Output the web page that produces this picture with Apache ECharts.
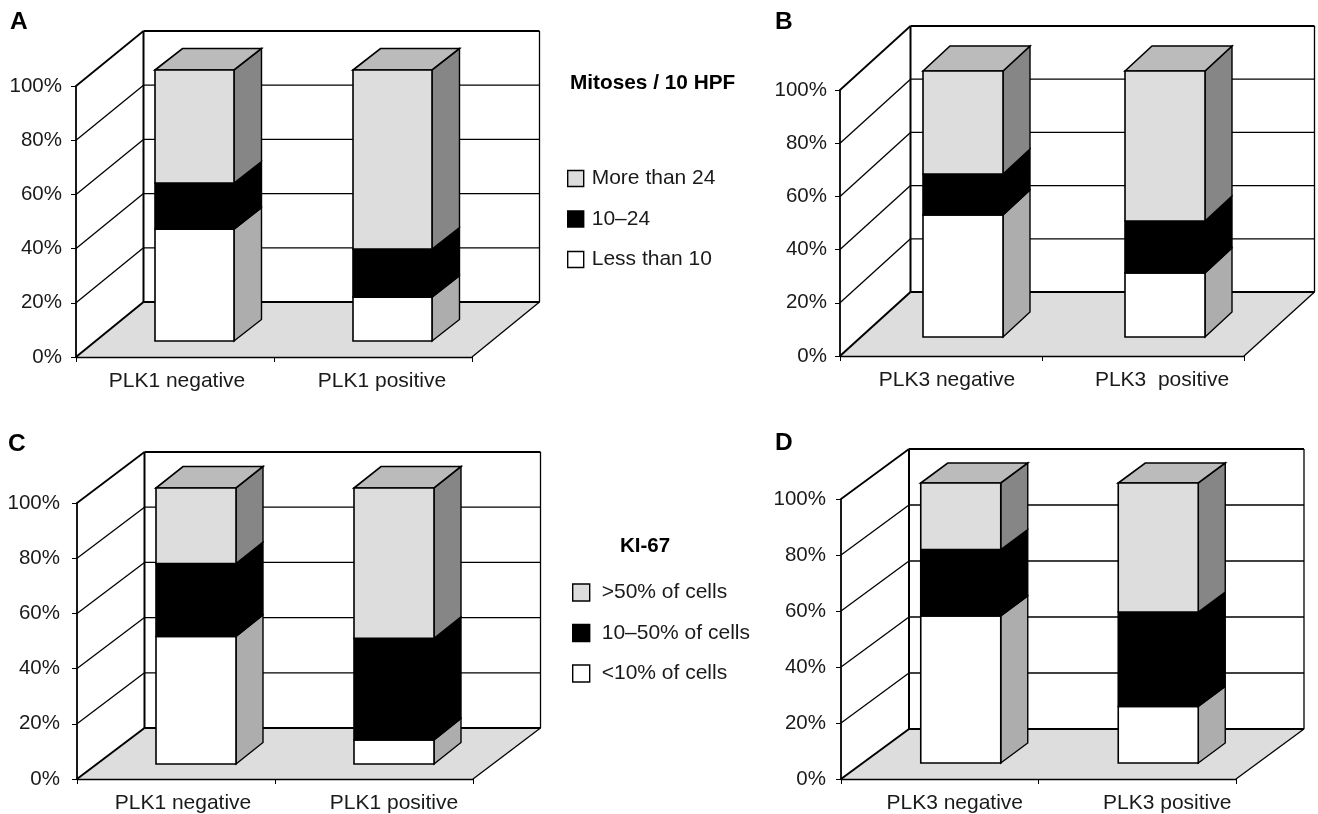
<!DOCTYPE html>
<html>
<head>
<meta charset="utf-8">
<style>html,body{margin:0;padding:0;background:#fff}#c{width:1318px;height:814px}</style>
<script src="https://cdn.jsdelivr.net/npm/echarts@6/dist/echarts.min.js"></script>
</head>
<body>
<div id="c"></div>
<script>
const yTicks = [20, 40, 60, 80, 100];
const categoriesA = ['PLK1 negative', 'PLK1 positive'];
const categoriesB = ['PLK3 negative', 'PLK3  positive'];
const categoriesC = ['PLK1 negative', 'PLK1 positive'];
const categoriesD = ['PLK3 negative', 'PLK3 positive'];
const mitosisNames = ['Less than 10', '10–24', 'More than 24'];
const ki67Names = ['<10% of cells', '10–50% of cells', '>50% of cells'];
const lowA = [41.3, 16.2], midA = [17.0, 17.7], highA = [41.7, 66.1];
const lowB = [45.9, 24.1], midB = [15.4, 19.5], highB = [38.7, 56.4];
const lowC = [46.2, 8.7], midC = [26.4, 36.8], highC = [27.4, 54.5];
const lowD = [52.5, 20.2], midD = [23.7, 33.7], highD = [23.8, 46.1];

const FONT = '"Liberation Sans", Arial, sans-serif';
const TEXT = '#1a1a1a';
const tierStyles = [
  { face: '#ffffff', side: '#adadad', stroke: '#000000' },
  { face: '#000000', side: '#000000', stroke: '#000000' },
  { face: '#dddddd', side: '#868686', stroke: '#000000' }
];

const panels = [
  { cats: categoriesA, names: mitosisNames, tiers: [lowA, midA, highA], rect: [76, 86, 396, 271], wall: [67.5, -55], barOff: [19.5, -16], barDepth: [27.5, -21.5], barW: 79, yMargin: 14, labelShift: [2, 9] },
  { cats: categoriesB, names: mitosisNames, tiers: [lowB, midB, highB], rect: [840, 90, 404, 266], wall: [70.5, -64], barOff: [22, -19], barDepth: [27, -25], barW: 80, yMargin: 13, labelShift: [6, 19] },
  { cats: categoriesC, names: ki67Names, tiers: [lowC, midC, highC], rect: [77, 503, 396, 277], wall: [67.5, -51], barOff: [20, -15], barDepth: [27, -21.5], barW: 80, yMargin: 17, labelShift: [7, 20] },
  { cats: categoriesD, names: ki67Names, tiers: [lowD, midD, highD], rect: [841, 499, 395, 282], wall: [68, -50], barOff: [21, -16], barDepth: [27, -20], barW: 80, yMargin: 15, labelShift: [15, 30] }
];

function line(x1, y1, x2, y2, w) {
  return { type: 'line', shape: { x1, y1, x2, y2 }, style: { stroke: '#000', lineWidth: w, fill: null } };
}
function poly(points, fill, stroke, w) {
  return { type: 'polygon', shape: { points }, style: { fill, stroke, lineWidth: w, lineJoin: 'miter' } };
}

function frameRender(panel) {
  return function (params, api) {
    const cs = params.coordSys;
    const [wx, wy] = panel.wall;
    const x0 = cs.x, x1 = cs.x + cs.width;
    const y0 = api.coord([0, 0])[1], yTop = api.coord([0, 100])[1];
    const ch = [];
    ch.push(poly([[x0, y0], [x0 + wx, y0 + wy], [x1 + wx, y0 + wy], [x1, y0]], '#dddddd', 'none', 0));
    yTicks.forEach(function (v) {
      const y = api.coord([0, v])[1];
      ch.push(line(x0, y, x0 + wx, y + wy, v === 100 ? 1.8 : 1.3));
      ch.push(line(x0 + wx, y + wy, x1 + wx, y + wy, v === 100 ? 1.8 : 1.3));
    });
    ch.push(line(x0, y0, x0 + wx, y0 + wy, 2));
    ch.push(line(x0 + wx, y0 + wy, x1 + wx, y0 + wy, 2));
    ch.push(line(x0 + wx, y0 + wy, x0 + wx, yTop + wy, 2));
    ch.push(line(x1 + wx, y0 + wy, x1 + wx, yTop + wy, 1.3));
    ch.push(line(x1, y0, x1 + wx, y0 + wy, 1.3));
    return { type: 'group', children: ch };
  };
}

function tierRender(panel, tierIndex) {
  return function (params, api) {
    const s = tierStyles[tierIndex];
    const c = api.value(0);
    const base = api.coord([c, api.value(1)]);
    const top = api.coord([c, api.value(2)]);
    const xa = base[0] + panel.barOff[0] - panel.barW / 2;
    const xb = xa + panel.barW;
    const yb = base[1] + panel.barOff[1];
    const yt = top[1] + panel.barOff[1];
    const [dx, dy] = panel.barDepth;
    const ch = [];
    ch.push(poly([[xb, yb], [xb + dx, yb + dy], [xb + dx, yt + dy], [xb, yt]], s.side, s.stroke, 1.4));
    if (tierIndex === 2) {
      ch.push(poly([[xa, yt], [xa + dx, yt + dy], [xb + dx, yt + dy], [xb, yt]], '#bbbbbb', s.stroke, 1.6));
    }
    ch.push(poly([[xa, yb], [xb, yb], [xb, yt], [xa, yt]], s.face, s.stroke, 1.6));
    return { type: 'group', children: ch };
  };
}

const grids = [], xAxes = [], yAxes = [], series = [];
panels.forEach(function (p, i) {
  grids.push({ left: p.rect[0], top: p.rect[1], width: p.rect[2], height: p.rect[3], containLabel: false });
  xAxes.push({
    type: 'category', gridIndex: i, z: 10,
    data: p.cats.map(function (name, c) {
      return { value: name, textStyle: { padding: [0, 0, 0, 2 * p.labelShift[c]] } };
    }),
    axisLine: { show: true, lineStyle: { color: '#000', width: 1.4 } },
    axisTick: { show: true, length: 5, lineStyle: { color: '#000', width: 1 } },
    axisLabel: { color: TEXT, fontFamily: FONT, fontSize: 21, margin: 14, interval: 0 },
    splitLine: { show: false }
  });
  yAxes.push({
    type: 'value', gridIndex: i, min: 0, max: 100, interval: 20, z: 10,
    axisLine: { show: true, lineStyle: { color: '#000', width: 1.8 } },
    axisTick: { show: true, length: 5, lineStyle: { color: '#000', width: 1 } },
    axisLabel: { color: TEXT, fontFamily: FONT, fontSize: 20.5, margin: p.yMargin, formatter: '{value}%' },
    splitLine: { show: false }
  });
  series.push({
    type: 'custom', xAxisIndex: i, yAxisIndex: i, silent: true, clip: false, z: 1,
    data: [[0]], renderItem: frameRender(p)
  });
  const running = p.cats.map(function () { return 0; });
  p.tiers.forEach(function (vals, t) {
    series.push({
      type: 'custom', name: p.names[t], xAxisIndex: i, yAxisIndex: i, clip: false, z: 2 + t, silent: true,
      itemStyle: { color: tierStyles[t].face },
      encode: { x: 0, y: 2 },
      data: vals.map(function (v, c) {
        const b = running[c];
        running[c] = b + v;
        return [c, b, b + v];
      }),
      renderItem: tierRender(p, t)
    });
  });
});

function legendOf(names, left, top, size, gap, textGap) {
  return {
    orient: 'vertical', left, top, itemWidth: size, itemHeight: size, itemGap: gap, padding: 0,
    selectedMode: false, icon: 'rect',
    textStyle: { color: TEXT, fontFamily: FONT, fontSize: 21, padding: [0, 0, 0, textGap] },
    data: [2, 1, 0].map(function (t) {
      return {
        name: names[t], icon: 'rect',
        itemStyle: { color: tierStyles[t].face, borderColor: '#000', borderWidth: 1.4 }
      };
    })
  };
}

function label(text, left, top, size) {
  return { text, left, top, padding: 0, textStyle: { color: '#000', fontFamily: FONT, fontWeight: 'bold', fontSize: size } };
}

const option = {
  animation: false,
  backgroundColor: '#fff',
  title: [
    label('A', 10, 10, 24.5), label('B', 775, 10, 24.5), label('C', 8, 432, 24.5), label('D', 775, 431, 24.5),
    label('Mitoses / 10 HPF', 570, 73, 20.8), label('KI-67', 620, 536, 20.5)
  ],
  legend: [
    legendOf(mitosisNames, 567, 168, 16, 19.5, 3),
    legendOf(ki67Names, 572, 582, 17, 19.5, 7)
  ],
  grid: grids, xAxis: xAxes, yAxis: yAxes, series: series
};
echarts.init(document.getElementById('c'), null, { renderer: 'canvas' }).setOption(option);
</script>
</body>
</html>
